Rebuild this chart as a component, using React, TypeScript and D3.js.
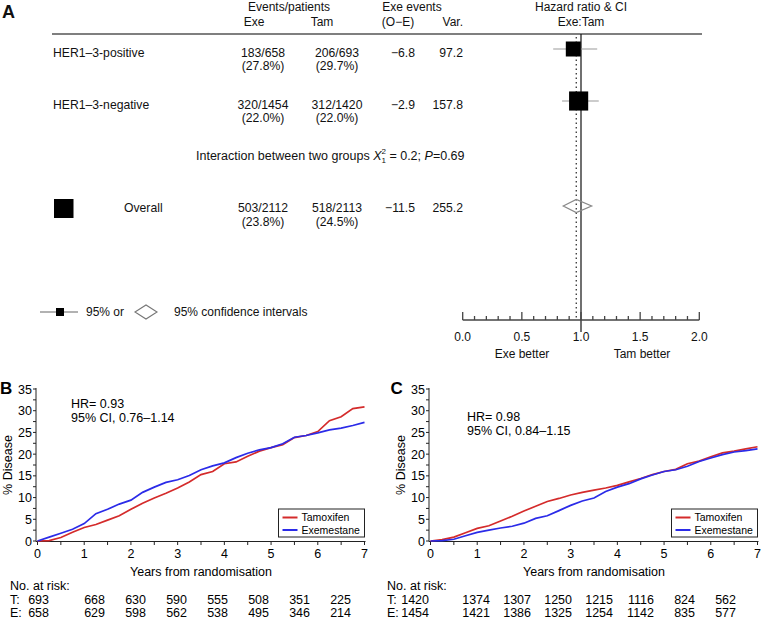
import React from "react";
import * as d3 from "d3";

// ---------- Panel A data ----------
const subgroups = ["HER1–3-positive", "HER1–3-negative"];
const exeEvents = ["183/658", "320/1454"];
const exePct = ["(27.8%)", "(22.0%)"];
const tamEvents = ["206/693", "312/1420"];
const tamPct = ["(29.7%)", "(22.0%)"];
const oeValues = ["−6.8", "−2.9"];
const varValues = [97.2, 157.8];
const hrValues = [0.935, 0.98];
const ciLow = [0.765, 0.84];
const ciHigh = [1.137, 1.15];

const overallLabel = "Overall";
const overallExe = ["503/2112", "(23.8%)"];
const overallTam = ["518/2113", "(24.5%)"];
const overallOE = "−11.5";
const overallVar = 255.2;
const overallHR = 0.96;
const overallCI = [0.85, 1.09];

const forestTicks = [0, 0.5, 1, 1.5, 2];

// ---------- Panel B / C data ----------
const years = [0, 0.25, 0.5, 0.75, 1, 1.25, 1.5, 1.75, 2, 2.25, 2.5, 2.75, 3, 3.25, 3.5, 3.75, 4, 4.25, 4.5, 4.75, 5, 5.25, 5.5, 5.75, 6, 6.25, 6.5, 6.75, 7];

const bTam = [0, 0.1, 0.8, 2.0, 3.1, 3.8, 4.8, 5.8, 7.3, 8.7, 9.9, 11.0, 12.2, 13.6, 15.3, 16.0, 17.8, 18.2, 19.5, 20.7, 21.5, 22.2, 23.8, 24.3, 25.2, 27.7, 28.6, 30.5, 30.9];
const bExe = [0, 0.9, 1.8, 2.7, 4.0, 6.3, 7.3, 8.5, 9.4, 11.2, 12.4, 13.5, 14.1, 15.1, 16.4, 17.3, 18.0, 19.2, 20.2, 21.0, 21.5, 22.4, 23.9, 24.3, 24.9, 25.6, 26.0, 26.6, 27.3];
const cTam = [0, 0.3, 0.9, 1.9, 2.9, 3.5, 4.6, 5.7, 6.9, 8.0, 9.1, 9.8, 10.6, 11.2, 11.7, 12.2, 12.8, 13.6, 14.4, 15.3, 16.0, 16.5, 17.8, 18.4, 19.4, 20.3, 20.7, 21.2, 21.7];
const cExe = [0, 0.1, 0.4, 1.2, 2.0, 2.5, 3.0, 3.4, 4.1, 5.2, 5.8, 7.0, 8.2, 9.2, 9.9, 11.4, 12.4, 13.2, 14.3, 15.2, 16.0, 16.4, 17.2, 18.3, 19.1, 19.9, 20.5, 20.8, 21.2];

const xTickLabels = [0, 1, 2, 3, 4, 5, 6, 7];
const yTickLabels = [0, 5, 10, 15, 20, 25, 30, 35];

const riskBT = [693, 668, 630, 590, 555, 508, 351, 225];
const riskBE = [658, 629, 598, 562, 538, 495, 346, 214];
const riskCT = [1420, 1374, 1307, 1250, 1215, 1116, 824, 562];
const riskCE = [1454, 1421, 1386, 1325, 1254, 1142, 835, 577];

const hrTextB = ["HR= 0.93", "95% CI, 0.76–1.14"];
const hrTextC = ["HR= 0.98", "95% CI, 0.84–1.15"];

const seriesNames = ["Tamoxifen", "Exemestane"];
const RED = "#d42b2b";
const BLUE = "#2b2be8";
const FONT = "'Liberation Sans', Arial, Helvetica, sans-serif";

function KMPanel({ letter, x0, x1, tam, exe, hrText, hrX, hrY, risksT, risksE, riskLabelX, riskFirstRight, riskStart }: any) {
  const x = d3.scaleLinear().domain([0, 7]).range([x0, x1]);
  const y = d3.scaleLinear().domain([0, 35]).range([541, 389]);
  const line = d3.line<number>().x((_, i) => x(years[i])).y((d) => y(d));
  const minorX = d3.range(0, 7.01, 0.5);
  const minorY = d3.range(0, 35.01, 2.5);
  const axX = x0 - 1.5;
  const lgX0 = x1 - 86;
  return (
    <g fontFamily={FONT}>
      <text x={letter === "B" ? 0 : x0 - 40} y={394} fontSize={17} fontWeight="bold">{letter}</text>
      <line x1={axX} x2={axX} y1={388} y2={541.5} stroke="#222" strokeWidth={1} />
      <line x1={axX} x2={x1 + 1} y1={541.5} y2={541.5} stroke="#222" strokeWidth={1} />
      {minorY.map((v) => (
        <line key={"yt" + v} x1={axX - 3} x2={axX} y1={y(v)} y2={y(v)} stroke="#222" />
      ))}
      {minorX.map((v) => (
        <line key={"xt" + v} x1={x(v)} x2={x(v)} y1={541.5} y2={545} stroke="#222" />
      ))}
      {yTickLabels.map((v) => (
        <text key={"yl" + v} x={axX - 4} y={y(v) + 4.5} fontSize={12.5} textAnchor="end">{v}</text>
      ))}
      {xTickLabels.map((v) => (
        <text key={"xl" + v} x={x(v)} y={557.5} fontSize={12.5} textAnchor="middle">{v}</text>
      ))}
      <text x={(x0 + x1) / 2} y={576} fontSize={12.5} textAnchor="middle">Years from randomisation</text>
      <text transform={`translate(${axX - 24},465) rotate(-90)`} fontSize={12.5} textAnchor="middle">% Disease</text>
      <path d={line(tam) as string} fill="none" stroke={RED} strokeWidth={1.7} />
      <path d={line(exe) as string} fill="none" stroke={BLUE} strokeWidth={1.7} />
      <text x={hrX} y={hrY} fontSize={12.5}>{hrText[0]}</text>
      <text x={hrX} y={hrY + 14} fontSize={12.5}>{hrText[1]}</text>
      <rect x={lgX0} y={509} width={86} height={28} fill="#fff" stroke="#222" strokeWidth={1} />
      <line x1={lgX0 + 4} x2={lgX0 + 19} y1={517.5} y2={517.5} stroke={RED} strokeWidth={2} />
      <line x1={lgX0 + 4} x2={lgX0 + 19} y1={530} y2={530} stroke={BLUE} strokeWidth={2} />
      <text x={lgX0 + 23} y={521} fontSize={10.5}>{seriesNames[0]}</text>
      <text x={lgX0 + 23} y={534} fontSize={10.5}>{seriesNames[1]}</text>
      <text x={riskLabelX} y={590} fontSize={12.5}>No. at risk:</text>
      <text x={riskLabelX} y={603.5} fontSize={12.5}>T:</text>
      <text x={riskLabelX} y={617} fontSize={12.5}>E:</text>
      {risksT.map((v: number, i: number) => (
        <text key={"rt" + i} x={i === 0 ? riskFirstRight : riskStart + 41 * i} y={603.5} fontSize={12.5} textAnchor="end">{v}</text>
      ))}
      {risksE.map((v: number, i: number) => (
        <text key={"re" + i} x={i === 0 ? riskFirstRight : riskStart + 41 * i} y={617} fontSize={12.5} textAnchor="end">{v}</text>
      ))}
    </g>
  );
}

function ForestPanel() {
  const fx = d3.scaleLinear().domain([0, 2]).range([462.7, 699.3]);
  const size = d3.scaleSqrt().domain([0, 160]).range([0, 19.25]);
  const rowY = [49, 101];
  const overallY = 206;
  const axisY = 320;
  const minor = d3.range(0, 2.001, 0.1);
  const exeC = 263;
  const tamC = 337;
  const oeR = 415;
  const varR = 463;
  const fs = 12.2;
  return (
    <g fontFamily={FONT} fill="#111">
      <text x={2} y={18} fontSize={18} fontWeight="bold">A</text>
      <text x={289} y={11} fontSize={12} textAnchor="middle">Events/patients</text>
      <text x={254} y={26} fontSize={12} textAnchor="middle">Exe</text>
      <text x={322} y={26} fontSize={12} textAnchor="middle">Tam</text>
      <text x={412} y={11} fontSize={12} textAnchor="middle">Exe events</text>
      <text x={398} y={26} fontSize={12} textAnchor="middle">(O−E)</text>
      <text x={varR} y={26} fontSize={12} textAnchor="end">Var.</text>
      <text x={581} y={11} fontSize={12} textAnchor="middle">Hazard ratio &amp; CI</text>
      <text x={581} y={26} fontSize={12} textAnchor="middle">Exe:Tam</text>
      <line x1={52} x2={702} y1={34} y2={34} stroke="#555" strokeWidth={1.6} />

      <line x1={fx(overallHR)} x2={fx(overallHR)} y1={37} y2={axisY - 2} stroke="#333" strokeWidth={1.3} strokeDasharray="1.5,3" />
      <line x1={fx(1)} x2={fx(1)} y1={34} y2={axisY + 12} stroke="#111" strokeWidth={1.2} />

      {subgroups.map((s, i) => {
        const sz = size(varValues[i]);
        return (
          <g key={s}>
            <text x={53} y={rowY[i] + 7.5} fontSize={fs}>{s}</text>
            <text x={exeC} y={rowY[i] + 7.5} fontSize={fs} textAnchor="middle">{exeEvents[i]}</text>
            <text x={exeC} y={rowY[i] + 21} fontSize={fs} textAnchor="middle">{exePct[i]}</text>
            <text x={tamC} y={rowY[i] + 7.5} fontSize={fs} textAnchor="middle">{tamEvents[i]}</text>
            <text x={tamC} y={rowY[i] + 21} fontSize={fs} textAnchor="middle">{tamPct[i]}</text>
            <text x={oeR} y={rowY[i] + 7.5} fontSize={fs} textAnchor="end">{oeValues[i]}</text>
            <text x={varR} y={rowY[i] + 7.5} fontSize={fs} textAnchor="end">{varValues[i].toFixed(1)}</text>
            <line x1={fx(ciLow[i])} x2={fx(ciHigh[i])} y1={rowY[i]} y2={rowY[i]} stroke="#999" strokeWidth={1.2} />
            <rect x={fx(hrValues[i]) - sz / 2} y={rowY[i] - sz / 2} width={sz} height={sz} fill="#000" />
          </g>
        );
      })}

      <text x={196} y={160} fontSize={12.5}>
        Interaction between two groups <tspan fontStyle="italic">X</tspan>
        <tspan fontSize={8} dy={-6}>2</tspan>
        <tspan fontSize={8} dx={-4.5} dy={9}>1</tspan>
        <tspan dy={-3}> = 0.2; </tspan>
        <tspan fontStyle="italic">P</tspan>=0.69
      </text>

      <rect x={54} y={199} width={19.5} height={19} fill="#000" />
      <text x={124} y={overallY + 6} fontSize={fs}>{overallLabel}</text>
      <text x={exeC} y={overallY + 6} fontSize={fs} textAnchor="middle">{overallExe[0]}</text>
      <text x={exeC} y={overallY + 19.5} fontSize={fs} textAnchor="middle">{overallExe[1]}</text>
      <text x={tamC} y={overallY + 6} fontSize={fs} textAnchor="middle">{overallTam[0]}</text>
      <text x={tamC} y={overallY + 19.5} fontSize={fs} textAnchor="middle">{overallTam[1]}</text>
      <text x={oeR} y={overallY + 6} fontSize={fs} textAnchor="end">{overallOE}</text>
      <text x={varR} y={overallY + 6} fontSize={fs} textAnchor="end">{overallVar.toFixed(1)}</text>
      <path
        d={`M${fx(overallCI[0])},${overallY} L${fx(overallHR)},${overallY - 6.5} L${fx(overallCI[1])},${overallY} L${fx(overallHR)},${overallY + 6.5} Z`}
        fill="none" stroke="#888" strokeWidth={1.2}
      />

      <line x1={40} x2={78} y1={312} y2={312} stroke="#666" strokeWidth={1.2} />
      <rect x={56} y={308} width={8} height={8} fill="#000" />
      <text x={86} y={316} fontSize={12}>95% or</text>
      <path d="M135,312 L146,305 L157,312 L146,319 Z" fill="#fff" stroke="#777" strokeWidth={1.1} />
      <text x={174} y={316} fontSize={12}>95% confidence intervals</text>

      <line x1={fx(0)} x2={fx(2)} y1={axisY} y2={axisY} stroke="#444" strokeWidth={1.6} />
      {minor.map((v) => {
        const major = Math.abs(v * 2 - Math.round(v * 2)) < 1e-6;
        return <line key={v} x1={fx(v)} x2={fx(v)} y1={axisY} y2={axisY - (major ? 8 : 4)} stroke="#444" strokeWidth={1.3} />;
      })}
      {forestTicks.map((v) => (
        <text key={"ft" + v} x={fx(v)} y={341} fontSize={12} textAnchor="middle">{v.toFixed(1)}</text>
      ))}
      <text x={522} y={358} fontSize={12} textAnchor="middle">Exe better</text>
      <text x={642} y={358} fontSize={12} textAnchor="middle">Tam better</text>
    </g>
  );
}

export default function App() {
  return (
    <svg width={768} height={624} style={{ position: "absolute", left: 0, top: 0, background: "#fff" }}>
      <rect width={768} height={624} fill="#fff" />
      <ForestPanel />
      <KMPanel letter="B" x0={37.5} x1={364.5} tam={bTam} exe={bExe} hrText={hrTextB} hrX={71} hrY={407.5}
        risksT={riskBT} risksE={riskBE} riskLabelX={10} riskFirstRight={49} riskStart={64} />
      <KMPanel letter="C" x0={430.5} x1={757.5} tam={cTam} exe={cExe} hrText={hrTextC} hrX={467} hrY={421}
        risksT={riskCT} risksE={riskCE} riskLabelX={387} riskFirstRight={429} riskStart={449} />
    </svg>
  );
}
